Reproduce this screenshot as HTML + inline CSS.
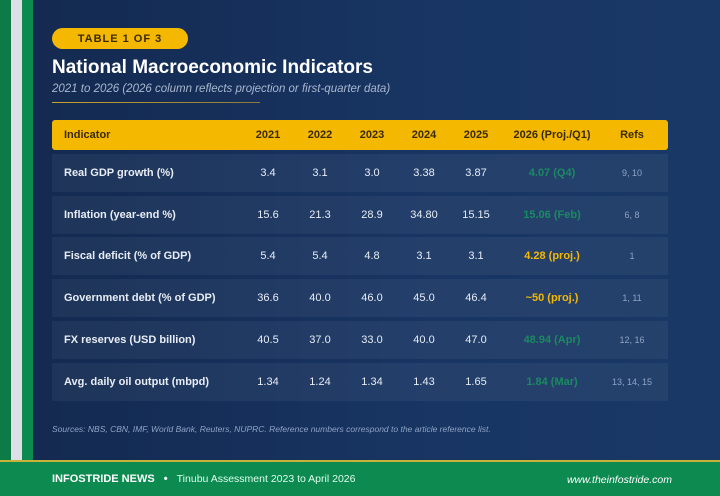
<!DOCTYPE html>
<html><head><meta charset="utf-8"><style>
*{margin:0;padding:0;box-sizing:border-box}
body{width:720px;height:496px;overflow:hidden;font-family:"Liberation Sans",sans-serif;background:linear-gradient(90deg,#13294f,#183563 60%,#1a3866);position:relative}
.abs{position:absolute}
.row{position:absolute;left:52px;width:616px;height:38px;background:rgba(255,255,255,0.05);font-size:11px;color:#e8edf5}
.row div,.hdr div{position:absolute;top:0;height:100%;display:flex;align-items:center;justify-content:center}
.hdr{position:absolute;left:52px;top:120px;width:616px;height:30px;background:#f5b800;border-radius:3px;font-size:11px;font-weight:bold;color:#3a2a00}
.lbl{left:12px!important;justify-content:flex-start!important;font-weight:bold}
</style></head><body>
<div class="abs" style="left:0;top:0;width:11px;height:460px;background:#0d7a47"></div>
<div class="abs" style="left:11px;top:0;width:11px;height:460px;background:#dde0e6"></div>
<div class="abs" style="left:22px;top:0;width:11px;height:460px;background:#0d8a50"></div>
<div class="abs" style="left:52px;top:28px;width:136px;height:21px;border-radius:11px;background:#f5b800;color:#3a2a00;font-size:11px;font-weight:bold;letter-spacing:1px;display:flex;align-items:center;justify-content:center">TABLE 1 OF 3</div>
<div class="abs" style="left:52px;top:57px;font-size:19px;font-weight:bold;color:#fff">National Macroeconomic Indicators</div>
<div class="abs" style="left:52px;top:83px;font-size:11.5px;font-style:italic;color:#a9b7cf">2021 to 2026 (2026 column reflects projection or first-quarter data)</div>
<div class="abs" style="left:52px;top:102px;width:208px;height:1px;background:linear-gradient(90deg,#c9a227,#8a7a40)"></div>
<div class="hdr" id="hdr"></div>
<div id="rows"></div>
<div class="abs" style="left:52px;top:424px;font-size:8.5px;font-style:italic;color:#8fa3c4">Sources: NBS, CBN, IMF, World Bank, Reuters, NUPRC. Reference numbers correspond to the article reference list.</div>
<div class="abs" style="left:0;top:460px;width:720px;height:36px;background:#0d8a50;border-top:2px solid #c9b23a">
<div class="abs" style="left:52px;top:11px;font-size:11px;font-weight:bold;color:#fff">INFOSTRIDE NEWS <span style="margin:0 6px">•</span> <span style="font-weight:normal;font-size:10.5px;color:#dfe">Tinubu Assessment 2023 to April 2026</span></div>
<div class="abs" style="right:48px;top:12px;font-size:10.5px;font-style:italic;color:#fff">www.theinfostride.com</div>
</div>
<script>
const headers=["Indicator","2021","2022","2023","2024","2025","2026 (Proj./Q1)","Refs"];
const labels=["Real GDP growth (%)","Inflation (year-end %)","Fiscal deficit (% of GDP)","Government debt (% of GDP)","FX reserves (USD billion)","Avg. daily oil output (mbpd)"];
const v2021=["3.4","15.6","5.4","36.6","40.5","1.34"];
const v2022=["3.1","21.3","5.4","40.0","37.0","1.24"];
const v2023=["3.0","28.9","4.8","46.0","33.0","1.34"];
const v2024=["3.38","34.80","3.1","45.0","40.0","1.43"];
const v2025=["3.87","15.15","3.1","46.4","47.0","1.65"];
const v2026=["4.07 (Q4)","15.06 (Feb)","4.28 (proj.)","~50 (proj.)","48.94 (Apr)","1.84 (Mar)"];
const c2026=["g","g","y","y","g","g"];
const refs=["9, 10","6, 8","1","1, 11","12, 16","13, 14, 15"];
const cx=[0,216,268,320,372,424,500,580];const cw=[200,40,40,40,40,40,110,60];
const hdr=document.getElementById('hdr');
headers.forEach((h,i)=>{const d=document.createElement('div');d.textContent=h;


if(i==0){d.className='lbl';}else{d.style.left=(cx[i]-20)+'px';d.style.width=(cw[i]+0)+'px';if(i==6){d.style.left='445px';d.style.width='110px'}if(i==7){d.style.left='550px';d.style.width='60px'}}
hdr.appendChild(d);});
const rows=document.getElementById('rows');
const cols=[v2021,v2022,v2023,v2024,v2025];
const centers=[216,268,320,372,424];
labels.forEach((l,r)=>{const row=document.createElement('div');row.className='row';row.style.top=(154+r*41.7)+'px';


let d=document.createElement('div');d.className='lbl';d.textContent=l;


row.appendChild(d);
cols.forEach((c,i)=>{const e=document.createElement('div');e.textContent=c[r];e.style.left=(centers[i]-20)+'px';e.style.width='40px';


row.appendChild(e);});
const p=document.createElement('div');p.textContent=v2026[r];p.style.left='445px';p.style.width='110px';p.style.fontWeight='bold';p.style.color=c2026[r]=='g'?'#1b8a62':'#f5b800';


row.appendChild(p);
const f=document.createElement('div');f.textContent=refs[r];f.style.left='550px';f.style.width='60px';f.style.fontSize='9px';f.style.color='#8fa3c4';


row.appendChild(f);
rows.appendChild(row);});
</script>
</body></html>
